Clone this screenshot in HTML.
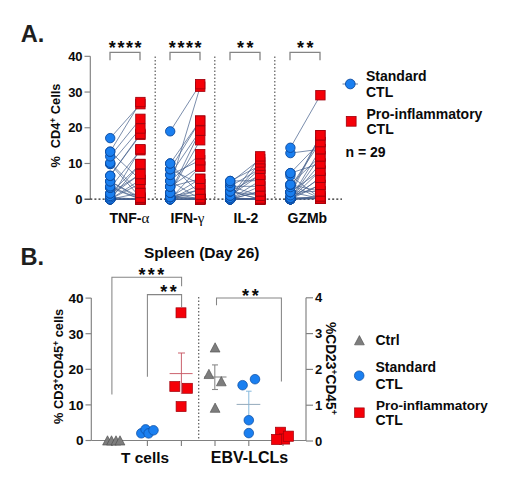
<!DOCTYPE html>
<html><head><meta charset="utf-8"><style>
html,body{margin:0;padding:0;background:#fff;width:520px;height:488px;overflow:hidden;}
svg{display:block;}
text{font-family:"Liberation Sans",sans-serif;}
</style></head><body>
<svg width="520" height="488" viewBox="0 0 520 488">
<rect width="520" height="488" fill="#fff"/>
<text x="20.8" y="42.1" font-size="23.6" font-family="Liberation Sans" font-weight="bold" fill="#1e1e1e">A.</text>
<g stroke="#808080" stroke-width="1.15" fill="none">
<line x1="90.3" y1="56.31999999999999" x2="90.3" y2="199.2"/>
<line x1="84.5" y1="163.48" x2="90.3" y2="163.48"/>
<line x1="84.5" y1="127.76" x2="90.3" y2="127.76"/>
<line x1="84.5" y1="92.04" x2="90.3" y2="92.04"/>
<line x1="84.5" y1="56.32" x2="90.3" y2="56.32"/>
</g>
<line x1="84.5" y1="199.2" x2="90.3" y2="199.2" stroke="#333" stroke-width="1.2"/>
<g font-size="13" font-family="Liberation Sans" font-weight="bold" text-anchor="end" fill="#0a0a0a">
<text x="82.6" y="203.80">0</text>
<text x="82.6" y="168.08">10</text>
<text x="82.6" y="132.36">20</text>
<text x="82.6" y="96.64">30</text>
<text x="82.6" y="60.92">40</text>
</g>
<text transform="translate(60.2,167.4) rotate(-90)" font-size="12.8" font-family="Liberation Sans" font-weight="bold" fill="#0a0a0a">%<tspan dx="4.2"> CD4</tspan><tspan font-size="8.5" dy="-4.6">+</tspan><tspan dy="4.6"> Cells</tspan></text>
<line x1="155.2" y1="56.5" x2="155.2" y2="199" stroke="#5a5a5a" stroke-width="1.2" stroke-dasharray="1.5 2"/>
<line x1="214.8" y1="56.5" x2="214.8" y2="199" stroke="#5a5a5a" stroke-width="1.2" stroke-dasharray="1.5 2"/>
<line x1="274.8" y1="56.5" x2="274.8" y2="199" stroke="#5a5a5a" stroke-width="1.2" stroke-dasharray="1.5 2"/>
<line x1="90.3" y1="199.2" x2="342" y2="199.2" stroke="#222" stroke-width="1.2" stroke-dasharray="2 2.1"/>
<g stroke="#45608c" stroke-width="0.85" stroke-opacity="0.85">
<line x1="110.2" y1="138.12" x2="140.4" y2="104.18"/>
<line x1="110.2" y1="151.69" x2="140.4" y2="102.04"/>
<line x1="110.2" y1="151.69" x2="140.4" y2="179.91"/>
<line x1="110.2" y1="156.34" x2="140.4" y2="118.83"/>
<line x1="110.2" y1="162.77" x2="140.4" y2="192.95"/>
<line x1="110.2" y1="164.02" x2="140.4" y2="197.59"/>
<line x1="110.2" y1="164.02" x2="140.4" y2="128.47"/>
<line x1="110.2" y1="175.80" x2="140.4" y2="134.90"/>
<line x1="110.2" y1="175.80" x2="140.4" y2="133.83"/>
<line x1="110.2" y1="181.34" x2="140.4" y2="197.59"/>
<line x1="110.2" y1="181.34" x2="140.4" y2="199.20"/>
<line x1="110.2" y1="186.34" x2="140.4" y2="199.20"/>
<line x1="110.2" y1="187.77" x2="140.4" y2="150.26"/>
<line x1="110.2" y1="187.77" x2="140.4" y2="199.20"/>
<line x1="110.2" y1="193.48" x2="140.4" y2="164.02"/>
<line x1="110.2" y1="193.48" x2="140.4" y2="174.02"/>
<line x1="110.2" y1="195.99" x2="140.4" y2="174.02"/>
<line x1="110.2" y1="197.41" x2="140.4" y2="199.20"/>
<line x1="110.2" y1="199.20" x2="140.4" y2="149.19"/>
<line x1="110.2" y1="199.20" x2="140.4" y2="183.48"/>
<line x1="110.2" y1="199.20" x2="140.4" y2="199.20"/>
<line x1="110.2" y1="199.20" x2="140.4" y2="199.20"/>
<line x1="110.2" y1="199.20" x2="140.4" y2="164.02"/>
<line x1="110.2" y1="199.20" x2="140.4" y2="192.95"/>
<line x1="110.2" y1="199.20" x2="140.4" y2="199.20"/>
<line x1="110.2" y1="199.20" x2="140.4" y2="179.91"/>
<line x1="110.2" y1="199.20" x2="140.4" y2="199.20"/>
<line x1="110.2" y1="199.20" x2="140.4" y2="199.20"/>
<line x1="110.2" y1="199.20" x2="140.4" y2="199.20"/>
</g>
<g fill="#1a7ff0" stroke="#0b4a9e" stroke-width="0.9">
<circle cx="110.2" cy="199.20" r="4.7"/>
<circle cx="110.2" cy="199.20" r="4.7"/>
<circle cx="110.2" cy="199.20" r="4.7"/>
<circle cx="110.2" cy="199.20" r="4.7"/>
<circle cx="110.2" cy="199.20" r="4.7"/>
<circle cx="110.2" cy="199.20" r="4.7"/>
<circle cx="110.2" cy="199.20" r="4.7"/>
<circle cx="110.2" cy="199.20" r="4.7"/>
<circle cx="110.2" cy="199.20" r="4.7"/>
<circle cx="110.2" cy="199.20" r="4.7"/>
<circle cx="110.2" cy="199.20" r="4.7"/>
<circle cx="110.2" cy="197.41" r="4.7"/>
<circle cx="110.2" cy="195.99" r="4.7"/>
<circle cx="110.2" cy="193.48" r="4.7"/>
<circle cx="110.2" cy="193.48" r="4.7"/>
<circle cx="110.2" cy="187.77" r="4.7"/>
<circle cx="110.2" cy="187.77" r="4.7"/>
<circle cx="110.2" cy="186.34" r="4.7"/>
<circle cx="110.2" cy="181.34" r="4.7"/>
<circle cx="110.2" cy="181.34" r="4.7"/>
<circle cx="110.2" cy="175.80" r="4.7"/>
<circle cx="110.2" cy="175.80" r="4.7"/>
<circle cx="110.2" cy="164.02" r="4.7"/>
<circle cx="110.2" cy="164.02" r="4.7"/>
<circle cx="110.2" cy="162.77" r="4.7"/>
<circle cx="110.2" cy="156.34" r="4.7"/>
<circle cx="110.2" cy="151.69" r="4.7"/>
<circle cx="110.2" cy="151.69" r="4.7"/>
<circle cx="110.2" cy="138.12" r="4.7"/>
</g>
<g fill="#f50008" stroke="#a0000c" stroke-width="0.85">
<rect x="135.70000000000002" y="194.50" width="9.4" height="9.4"/>
<rect x="135.70000000000002" y="194.50" width="9.4" height="9.4"/>
<rect x="135.70000000000002" y="194.50" width="9.4" height="9.4"/>
<rect x="135.70000000000002" y="194.50" width="9.4" height="9.4"/>
<rect x="135.70000000000002" y="194.50" width="9.4" height="9.4"/>
<rect x="135.70000000000002" y="194.50" width="9.4" height="9.4"/>
<rect x="135.70000000000002" y="194.50" width="9.4" height="9.4"/>
<rect x="135.70000000000002" y="194.50" width="9.4" height="9.4"/>
<rect x="135.70000000000002" y="194.50" width="9.4" height="9.4"/>
<rect x="135.70000000000002" y="194.50" width="9.4" height="9.4"/>
<rect x="135.70000000000002" y="192.89" width="9.4" height="9.4"/>
<rect x="135.70000000000002" y="192.89" width="9.4" height="9.4"/>
<rect x="135.70000000000002" y="188.25" width="9.4" height="9.4"/>
<rect x="135.70000000000002" y="188.25" width="9.4" height="9.4"/>
<rect x="135.70000000000002" y="178.78" width="9.4" height="9.4"/>
<rect x="135.70000000000002" y="175.21" width="9.4" height="9.4"/>
<rect x="135.70000000000002" y="175.21" width="9.4" height="9.4"/>
<rect x="135.70000000000002" y="169.32" width="9.4" height="9.4"/>
<rect x="135.70000000000002" y="169.32" width="9.4" height="9.4"/>
<rect x="135.70000000000002" y="159.32" width="9.4" height="9.4"/>
<rect x="135.70000000000002" y="159.32" width="9.4" height="9.4"/>
<rect x="135.70000000000002" y="145.56" width="9.4" height="9.4"/>
<rect x="135.70000000000002" y="144.49" width="9.4" height="9.4"/>
<rect x="135.70000000000002" y="130.20" width="9.4" height="9.4"/>
<rect x="135.70000000000002" y="129.13" width="9.4" height="9.4"/>
<rect x="135.70000000000002" y="123.77" width="9.4" height="9.4"/>
<rect x="135.70000000000002" y="114.13" width="9.4" height="9.4"/>
<rect x="135.70000000000002" y="99.48" width="9.4" height="9.4"/>
<rect x="135.70000000000002" y="97.34" width="9.4" height="9.4"/>
</g>
<g stroke="#45608c" stroke-width="0.85" stroke-opacity="0.85">
<line x1="170.2" y1="131.33" x2="200.2" y2="84.18"/>
<line x1="170.2" y1="163.48" x2="200.2" y2="120.62"/>
<line x1="170.2" y1="163.48" x2="200.2" y2="194.56"/>
<line x1="170.2" y1="169.20" x2="200.2" y2="120.62"/>
<line x1="170.2" y1="169.20" x2="200.2" y2="184.20"/>
<line x1="170.2" y1="174.91" x2="200.2" y2="160.27"/>
<line x1="170.2" y1="174.91" x2="200.2" y2="130.62"/>
<line x1="170.2" y1="180.98" x2="200.2" y2="199.20"/>
<line x1="170.2" y1="180.98" x2="200.2" y2="154.19"/>
<line x1="170.2" y1="186.70" x2="200.2" y2="178.84"/>
<line x1="170.2" y1="186.70" x2="200.2" y2="166.52"/>
<line x1="170.2" y1="186.70" x2="200.2" y2="86.68"/>
<line x1="170.2" y1="192.77" x2="200.2" y2="140.26"/>
<line x1="170.2" y1="192.77" x2="200.2" y2="199.20"/>
<line x1="170.2" y1="192.77" x2="200.2" y2="130.62"/>
<line x1="170.2" y1="197.06" x2="200.2" y2="194.56"/>
<line x1="170.2" y1="197.06" x2="200.2" y2="178.84"/>
<line x1="170.2" y1="197.06" x2="200.2" y2="189.56"/>
<line x1="170.2" y1="197.06" x2="200.2" y2="198.13"/>
<line x1="170.2" y1="197.06" x2="200.2" y2="199.20"/>
<line x1="170.2" y1="199.20" x2="200.2" y2="184.20"/>
<line x1="170.2" y1="199.20" x2="200.2" y2="199.20"/>
<line x1="170.2" y1="199.20" x2="200.2" y2="199.20"/>
<line x1="170.2" y1="199.20" x2="200.2" y2="166.52"/>
<line x1="170.2" y1="199.20" x2="200.2" y2="199.20"/>
<line x1="170.2" y1="199.20" x2="200.2" y2="199.20"/>
<line x1="170.2" y1="199.20" x2="200.2" y2="199.20"/>
<line x1="170.2" y1="199.20" x2="200.2" y2="189.56"/>
<line x1="170.2" y1="199.20" x2="200.2" y2="199.20"/>
</g>
<g fill="#1a7ff0" stroke="#0b4a9e" stroke-width="0.9">
<circle cx="170.2" cy="199.20" r="4.7"/>
<circle cx="170.2" cy="199.20" r="4.7"/>
<circle cx="170.2" cy="199.20" r="4.7"/>
<circle cx="170.2" cy="199.20" r="4.7"/>
<circle cx="170.2" cy="199.20" r="4.7"/>
<circle cx="170.2" cy="199.20" r="4.7"/>
<circle cx="170.2" cy="199.20" r="4.7"/>
<circle cx="170.2" cy="199.20" r="4.7"/>
<circle cx="170.2" cy="199.20" r="4.7"/>
<circle cx="170.2" cy="197.06" r="4.7"/>
<circle cx="170.2" cy="197.06" r="4.7"/>
<circle cx="170.2" cy="197.06" r="4.7"/>
<circle cx="170.2" cy="197.06" r="4.7"/>
<circle cx="170.2" cy="197.06" r="4.7"/>
<circle cx="170.2" cy="192.77" r="4.7"/>
<circle cx="170.2" cy="192.77" r="4.7"/>
<circle cx="170.2" cy="192.77" r="4.7"/>
<circle cx="170.2" cy="186.70" r="4.7"/>
<circle cx="170.2" cy="186.70" r="4.7"/>
<circle cx="170.2" cy="186.70" r="4.7"/>
<circle cx="170.2" cy="180.98" r="4.7"/>
<circle cx="170.2" cy="180.98" r="4.7"/>
<circle cx="170.2" cy="174.91" r="4.7"/>
<circle cx="170.2" cy="174.91" r="4.7"/>
<circle cx="170.2" cy="169.20" r="4.7"/>
<circle cx="170.2" cy="169.20" r="4.7"/>
<circle cx="170.2" cy="163.48" r="4.7"/>
<circle cx="170.2" cy="163.48" r="4.7"/>
<circle cx="170.2" cy="131.33" r="4.7"/>
</g>
<g fill="#f50008" stroke="#a0000c" stroke-width="0.85">
<rect x="195.5" y="194.50" width="9.4" height="9.4"/>
<rect x="195.5" y="194.50" width="9.4" height="9.4"/>
<rect x="195.5" y="194.50" width="9.4" height="9.4"/>
<rect x="195.5" y="194.50" width="9.4" height="9.4"/>
<rect x="195.5" y="194.50" width="9.4" height="9.4"/>
<rect x="195.5" y="194.50" width="9.4" height="9.4"/>
<rect x="195.5" y="194.50" width="9.4" height="9.4"/>
<rect x="195.5" y="194.50" width="9.4" height="9.4"/>
<rect x="195.5" y="194.50" width="9.4" height="9.4"/>
<rect x="195.5" y="193.43" width="9.4" height="9.4"/>
<rect x="195.5" y="189.86" width="9.4" height="9.4"/>
<rect x="195.5" y="189.86" width="9.4" height="9.4"/>
<rect x="195.5" y="184.86" width="9.4" height="9.4"/>
<rect x="195.5" y="184.86" width="9.4" height="9.4"/>
<rect x="195.5" y="179.50" width="9.4" height="9.4"/>
<rect x="195.5" y="179.50" width="9.4" height="9.4"/>
<rect x="195.5" y="174.14" width="9.4" height="9.4"/>
<rect x="195.5" y="174.14" width="9.4" height="9.4"/>
<rect x="195.5" y="161.82" width="9.4" height="9.4"/>
<rect x="195.5" y="161.82" width="9.4" height="9.4"/>
<rect x="195.5" y="155.57" width="9.4" height="9.4"/>
<rect x="195.5" y="149.49" width="9.4" height="9.4"/>
<rect x="195.5" y="135.56" width="9.4" height="9.4"/>
<rect x="195.5" y="125.92" width="9.4" height="9.4"/>
<rect x="195.5" y="125.92" width="9.4" height="9.4"/>
<rect x="195.5" y="115.92" width="9.4" height="9.4"/>
<rect x="195.5" y="115.92" width="9.4" height="9.4"/>
<rect x="195.5" y="81.98" width="9.4" height="9.4"/>
<rect x="195.5" y="79.48" width="9.4" height="9.4"/>
</g>
<g stroke="#45608c" stroke-width="0.85" stroke-opacity="0.85">
<line x1="230.2" y1="180.98" x2="260.2" y2="165.62"/>
<line x1="230.2" y1="180.98" x2="260.2" y2="180.63"/>
<line x1="230.2" y1="182.77" x2="260.2" y2="159.19"/>
<line x1="230.2" y1="186.34" x2="260.2" y2="195.63"/>
<line x1="230.2" y1="186.34" x2="260.2" y2="168.84"/>
<line x1="230.2" y1="186.34" x2="260.2" y2="186.34"/>
<line x1="230.2" y1="191.34" x2="260.2" y2="199.20"/>
<line x1="230.2" y1="191.34" x2="260.2" y2="174.91"/>
<line x1="230.2" y1="191.34" x2="260.2" y2="195.63"/>
<line x1="230.2" y1="191.34" x2="260.2" y2="199.20"/>
<line x1="230.2" y1="195.63" x2="260.2" y2="168.84"/>
<line x1="230.2" y1="195.63" x2="260.2" y2="174.91"/>
<line x1="230.2" y1="197.77" x2="260.2" y2="156.34"/>
<line x1="230.2" y1="197.77" x2="260.2" y2="199.20"/>
<line x1="230.2" y1="199.20" x2="260.2" y2="162.41"/>
<line x1="230.2" y1="199.20" x2="260.2" y2="186.34"/>
<line x1="230.2" y1="199.20" x2="260.2" y2="199.20"/>
<line x1="230.2" y1="199.20" x2="260.2" y2="199.20"/>
<line x1="230.2" y1="199.20" x2="260.2" y2="198.49"/>
<line x1="230.2" y1="199.20" x2="260.2" y2="191.34"/>
<line x1="230.2" y1="199.20" x2="260.2" y2="199.20"/>
<line x1="230.2" y1="199.20" x2="260.2" y2="199.20"/>
<line x1="230.2" y1="199.20" x2="260.2" y2="199.20"/>
<line x1="230.2" y1="199.20" x2="260.2" y2="199.20"/>
<line x1="230.2" y1="199.20" x2="260.2" y2="180.63"/>
<line x1="230.2" y1="199.20" x2="260.2" y2="199.20"/>
<line x1="230.2" y1="199.20" x2="260.2" y2="199.20"/>
<line x1="230.2" y1="199.20" x2="260.2" y2="191.34"/>
<line x1="230.2" y1="199.20" x2="260.2" y2="199.20"/>
</g>
<g fill="#1a7ff0" stroke="#0b4a9e" stroke-width="0.9">
<circle cx="230.2" cy="199.20" r="4.7"/>
<circle cx="230.2" cy="199.20" r="4.7"/>
<circle cx="230.2" cy="199.20" r="4.7"/>
<circle cx="230.2" cy="199.20" r="4.7"/>
<circle cx="230.2" cy="199.20" r="4.7"/>
<circle cx="230.2" cy="199.20" r="4.7"/>
<circle cx="230.2" cy="199.20" r="4.7"/>
<circle cx="230.2" cy="199.20" r="4.7"/>
<circle cx="230.2" cy="199.20" r="4.7"/>
<circle cx="230.2" cy="199.20" r="4.7"/>
<circle cx="230.2" cy="199.20" r="4.7"/>
<circle cx="230.2" cy="199.20" r="4.7"/>
<circle cx="230.2" cy="199.20" r="4.7"/>
<circle cx="230.2" cy="199.20" r="4.7"/>
<circle cx="230.2" cy="199.20" r="4.7"/>
<circle cx="230.2" cy="197.77" r="4.7"/>
<circle cx="230.2" cy="197.77" r="4.7"/>
<circle cx="230.2" cy="195.63" r="4.7"/>
<circle cx="230.2" cy="195.63" r="4.7"/>
<circle cx="230.2" cy="191.34" r="4.7"/>
<circle cx="230.2" cy="191.34" r="4.7"/>
<circle cx="230.2" cy="191.34" r="4.7"/>
<circle cx="230.2" cy="191.34" r="4.7"/>
<circle cx="230.2" cy="186.34" r="4.7"/>
<circle cx="230.2" cy="186.34" r="4.7"/>
<circle cx="230.2" cy="186.34" r="4.7"/>
<circle cx="230.2" cy="182.77" r="4.7"/>
<circle cx="230.2" cy="180.98" r="4.7"/>
<circle cx="230.2" cy="180.98" r="4.7"/>
</g>
<g fill="#f50008" stroke="#a0000c" stroke-width="0.85">
<rect x="255.5" y="194.50" width="9.4" height="9.4"/>
<rect x="255.5" y="194.50" width="9.4" height="9.4"/>
<rect x="255.5" y="194.50" width="9.4" height="9.4"/>
<rect x="255.5" y="194.50" width="9.4" height="9.4"/>
<rect x="255.5" y="194.50" width="9.4" height="9.4"/>
<rect x="255.5" y="194.50" width="9.4" height="9.4"/>
<rect x="255.5" y="194.50" width="9.4" height="9.4"/>
<rect x="255.5" y="194.50" width="9.4" height="9.4"/>
<rect x="255.5" y="194.50" width="9.4" height="9.4"/>
<rect x="255.5" y="194.50" width="9.4" height="9.4"/>
<rect x="255.5" y="194.50" width="9.4" height="9.4"/>
<rect x="255.5" y="194.50" width="9.4" height="9.4"/>
<rect x="255.5" y="193.79" width="9.4" height="9.4"/>
<rect x="255.5" y="190.93" width="9.4" height="9.4"/>
<rect x="255.5" y="190.93" width="9.4" height="9.4"/>
<rect x="255.5" y="186.64" width="9.4" height="9.4"/>
<rect x="255.5" y="186.64" width="9.4" height="9.4"/>
<rect x="255.5" y="181.64" width="9.4" height="9.4"/>
<rect x="255.5" y="181.64" width="9.4" height="9.4"/>
<rect x="255.5" y="175.93" width="9.4" height="9.4"/>
<rect x="255.5" y="175.93" width="9.4" height="9.4"/>
<rect x="255.5" y="170.21" width="9.4" height="9.4"/>
<rect x="255.5" y="170.21" width="9.4" height="9.4"/>
<rect x="255.5" y="164.14" width="9.4" height="9.4"/>
<rect x="255.5" y="164.14" width="9.4" height="9.4"/>
<rect x="255.5" y="160.92" width="9.4" height="9.4"/>
<rect x="255.5" y="157.71" width="9.4" height="9.4"/>
<rect x="255.5" y="154.49" width="9.4" height="9.4"/>
<rect x="255.5" y="151.64" width="9.4" height="9.4"/>
</g>
<g stroke="#45608c" stroke-width="0.85" stroke-opacity="0.85">
<line x1="290.4" y1="147.76" x2="320.4" y2="95.25"/>
<line x1="290.4" y1="153.12" x2="320.4" y2="149.19"/>
<line x1="290.4" y1="173.12" x2="320.4" y2="163.48"/>
<line x1="290.4" y1="173.12" x2="320.4" y2="142.05"/>
<line x1="290.4" y1="175.62" x2="320.4" y2="198.49"/>
<line x1="290.4" y1="184.55" x2="320.4" y2="156.34"/>
<line x1="290.4" y1="184.55" x2="320.4" y2="198.49"/>
<line x1="290.4" y1="184.55" x2="320.4" y2="191.34"/>
<line x1="290.4" y1="187.06" x2="320.4" y2="142.05"/>
<line x1="290.4" y1="192.06" x2="320.4" y2="135.26"/>
<line x1="290.4" y1="192.06" x2="320.4" y2="170.62"/>
<line x1="290.4" y1="192.06" x2="320.4" y2="191.34"/>
<line x1="290.4" y1="192.06" x2="320.4" y2="198.49"/>
<line x1="290.4" y1="195.27" x2="320.4" y2="135.26"/>
<line x1="290.4" y1="197.77" x2="320.4" y2="198.49"/>
<line x1="290.4" y1="197.77" x2="320.4" y2="184.91"/>
<line x1="290.4" y1="197.77" x2="320.4" y2="198.49"/>
<line x1="290.4" y1="199.20" x2="320.4" y2="149.19"/>
<line x1="290.4" y1="199.20" x2="320.4" y2="198.49"/>
<line x1="290.4" y1="199.20" x2="320.4" y2="177.77"/>
<line x1="290.4" y1="199.20" x2="320.4" y2="196.34"/>
<line x1="290.4" y1="199.20" x2="320.4" y2="170.62"/>
<line x1="290.4" y1="199.20" x2="320.4" y2="156.34"/>
<line x1="290.4" y1="199.20" x2="320.4" y2="177.77"/>
<line x1="290.4" y1="199.20" x2="320.4" y2="184.91"/>
<line x1="290.4" y1="199.20" x2="320.4" y2="163.48"/>
<line x1="290.4" y1="199.20" x2="320.4" y2="198.49"/>
<line x1="290.4" y1="199.20" x2="320.4" y2="196.34"/>
<line x1="290.4" y1="199.20" x2="320.4" y2="198.49"/>
</g>
<g fill="#1a7ff0" stroke="#0b4a9e" stroke-width="0.9">
<circle cx="290.4" cy="199.20" r="4.7"/>
<circle cx="290.4" cy="199.20" r="4.7"/>
<circle cx="290.4" cy="199.20" r="4.7"/>
<circle cx="290.4" cy="199.20" r="4.7"/>
<circle cx="290.4" cy="199.20" r="4.7"/>
<circle cx="290.4" cy="199.20" r="4.7"/>
<circle cx="290.4" cy="199.20" r="4.7"/>
<circle cx="290.4" cy="199.20" r="4.7"/>
<circle cx="290.4" cy="199.20" r="4.7"/>
<circle cx="290.4" cy="199.20" r="4.7"/>
<circle cx="290.4" cy="199.20" r="4.7"/>
<circle cx="290.4" cy="199.20" r="4.7"/>
<circle cx="290.4" cy="197.77" r="4.7"/>
<circle cx="290.4" cy="197.77" r="4.7"/>
<circle cx="290.4" cy="197.77" r="4.7"/>
<circle cx="290.4" cy="195.27" r="4.7"/>
<circle cx="290.4" cy="192.06" r="4.7"/>
<circle cx="290.4" cy="192.06" r="4.7"/>
<circle cx="290.4" cy="192.06" r="4.7"/>
<circle cx="290.4" cy="192.06" r="4.7"/>
<circle cx="290.4" cy="187.06" r="4.7"/>
<circle cx="290.4" cy="184.55" r="4.7"/>
<circle cx="290.4" cy="184.55" r="4.7"/>
<circle cx="290.4" cy="184.55" r="4.7"/>
<circle cx="290.4" cy="175.62" r="4.7"/>
<circle cx="290.4" cy="173.12" r="4.7"/>
<circle cx="290.4" cy="173.12" r="4.7"/>
<circle cx="290.4" cy="153.12" r="4.7"/>
<circle cx="290.4" cy="147.76" r="4.7"/>
</g>
<g fill="#f50008" stroke="#a0000c" stroke-width="0.85">
<rect x="315.7" y="193.79" width="9.4" height="9.4"/>
<rect x="315.7" y="193.79" width="9.4" height="9.4"/>
<rect x="315.7" y="193.79" width="9.4" height="9.4"/>
<rect x="315.7" y="193.79" width="9.4" height="9.4"/>
<rect x="315.7" y="193.79" width="9.4" height="9.4"/>
<rect x="315.7" y="193.79" width="9.4" height="9.4"/>
<rect x="315.7" y="193.79" width="9.4" height="9.4"/>
<rect x="315.7" y="193.79" width="9.4" height="9.4"/>
<rect x="315.7" y="191.64" width="9.4" height="9.4"/>
<rect x="315.7" y="191.64" width="9.4" height="9.4"/>
<rect x="315.7" y="186.64" width="9.4" height="9.4"/>
<rect x="315.7" y="186.64" width="9.4" height="9.4"/>
<rect x="315.7" y="180.21" width="9.4" height="9.4"/>
<rect x="315.7" y="180.21" width="9.4" height="9.4"/>
<rect x="315.7" y="173.07" width="9.4" height="9.4"/>
<rect x="315.7" y="173.07" width="9.4" height="9.4"/>
<rect x="315.7" y="165.92" width="9.4" height="9.4"/>
<rect x="315.7" y="165.92" width="9.4" height="9.4"/>
<rect x="315.7" y="158.78" width="9.4" height="9.4"/>
<rect x="315.7" y="158.78" width="9.4" height="9.4"/>
<rect x="315.7" y="151.64" width="9.4" height="9.4"/>
<rect x="315.7" y="151.64" width="9.4" height="9.4"/>
<rect x="315.7" y="144.49" width="9.4" height="9.4"/>
<rect x="315.7" y="144.49" width="9.4" height="9.4"/>
<rect x="315.7" y="137.35" width="9.4" height="9.4"/>
<rect x="315.7" y="137.35" width="9.4" height="9.4"/>
<rect x="315.7" y="130.56" width="9.4" height="9.4"/>
<rect x="315.7" y="130.56" width="9.4" height="9.4"/>
<rect x="315.7" y="90.55" width="9.4" height="9.4"/>
</g>
<path d="M110 60.3 V52.3 H140 V60.3" fill="none" stroke="#858585" stroke-width="1.3"/>
<text x="112.30" y="54.2" font-size="18" font-family="Liberation Sans" font-weight="bold" text-anchor="middle" fill="#0a0a0a">*</text>
<text x="120.90" y="54.2" font-size="18" font-family="Liberation Sans" font-weight="bold" text-anchor="middle" fill="#0a0a0a">*</text>
<text x="129.50" y="54.2" font-size="18" font-family="Liberation Sans" font-weight="bold" text-anchor="middle" fill="#0a0a0a">*</text>
<text x="138.10" y="54.2" font-size="18" font-family="Liberation Sans" font-weight="bold" text-anchor="middle" fill="#0a0a0a">*</text>
<path d="M170 60.3 V52.3 H200 V60.3" fill="none" stroke="#858585" stroke-width="1.3"/>
<text x="172.30" y="54.2" font-size="18" font-family="Liberation Sans" font-weight="bold" text-anchor="middle" fill="#0a0a0a">*</text>
<text x="180.90" y="54.2" font-size="18" font-family="Liberation Sans" font-weight="bold" text-anchor="middle" fill="#0a0a0a">*</text>
<text x="189.50" y="54.2" font-size="18" font-family="Liberation Sans" font-weight="bold" text-anchor="middle" fill="#0a0a0a">*</text>
<text x="198.10" y="54.2" font-size="18" font-family="Liberation Sans" font-weight="bold" text-anchor="middle" fill="#0a0a0a">*</text>
<path d="M230 60.3 V52.3 H260 V60.3" fill="none" stroke="#858585" stroke-width="1.3"/>
<text x="240.50" y="54.2" font-size="18" font-family="Liberation Sans" font-weight="bold" text-anchor="middle" fill="#0a0a0a">*</text>
<text x="249.90" y="54.2" font-size="18" font-family="Liberation Sans" font-weight="bold" text-anchor="middle" fill="#0a0a0a">*</text>
<path d="M290 60.3 V52.3 H320 V60.3" fill="none" stroke="#858585" stroke-width="1.3"/>
<text x="300.50" y="54.2" font-size="18" font-family="Liberation Sans" font-weight="bold" text-anchor="middle" fill="#0a0a0a">*</text>
<text x="309.90" y="54.2" font-size="18" font-family="Liberation Sans" font-weight="bold" text-anchor="middle" fill="#0a0a0a">*</text>
<g font-size="14" font-family="Liberation Sans" font-weight="bold" fill="#0a0a0a">
<text x="109.5" y="223">TNF-<tspan font-family="Liberation Serif" font-weight="normal" font-size="15">α</tspan></text>
<text x="170.5" y="223">IFN-<tspan font-family="Liberation Serif" font-weight="normal" font-size="15">γ</tspan></text>
<text x="233.5" y="223">IL-2</text>
<text x="287.5" y="223">GZMb</text>
</g>
<line x1="342.5" y1="84" x2="358" y2="84" stroke="#45608c" stroke-width="0.8"/>
<circle cx="350.3" cy="84" r="4.85" fill="#1a7ff0" stroke="#0b4a9e" stroke-width="0.9"/>
<rect x="346.3" y="116.4" width="9.8" height="9.8" fill="#f50008" stroke="#a0000c" stroke-width="0.8"/>
<g font-size="14" font-family="Liberation Sans" font-weight="bold" fill="#0a0a0a">
<text x="366" y="80.5">Standard</text><text x="366" y="96.5">CTL</text>
<text x="366.5" y="119">Pro-inflammatory</text><text x="366.5" y="134">CTL</text>
<text x="345.5" y="156.5">n = 29</text>
</g>
<text x="20.4" y="265" font-size="23.6" font-family="Liberation Sans" font-weight="bold" fill="#1e1e1e">B.</text>
<text x="144" y="257.6" font-size="15.5" font-family="Liberation Sans" font-weight="bold" fill="#0a0a0a">Spleen (Day 26)</text>
<g stroke="#808080" stroke-width="1.15" fill="none">
<line x1="91.3" y1="298.1" x2="91.3" y2="440.5"/>
<line x1="85.5" y1="440.50" x2="91.3" y2="440.50"/>
<line x1="85.5" y1="404.90" x2="91.3" y2="404.90"/>
<line x1="85.5" y1="369.30" x2="91.3" y2="369.30"/>
<line x1="85.5" y1="333.70" x2="91.3" y2="333.70"/>
<line x1="85.5" y1="298.10" x2="91.3" y2="298.10"/>
<line x1="306" y1="297.8" x2="306" y2="441.0"/>
<line x1="306" y1="441.00" x2="313" y2="441.00"/>
<line x1="306" y1="405.20" x2="313" y2="405.20"/>
<line x1="306" y1="369.40" x2="313" y2="369.40"/>
<line x1="306" y1="333.60" x2="313" y2="333.60"/>
<line x1="306" y1="297.80" x2="313" y2="297.80"/>
<line x1="91.3" y1="440.5" x2="306" y2="440.5"/>
<line x1="112" y1="440.5" x2="112" y2="446"/>
<line x1="147.4" y1="440.5" x2="147.4" y2="446"/>
<line x1="181.4" y1="440.5" x2="181.4" y2="446"/>
<line x1="215" y1="440.5" x2="215" y2="446"/>
<line x1="248.8" y1="440.5" x2="248.8" y2="446"/>
<line x1="283" y1="440.5" x2="283" y2="446"/>
</g>
<g font-size="13.6" font-family="Liberation Sans" font-weight="bold" text-anchor="end" fill="#0a0a0a">
<text x="83.5" y="445.30">0</text>
<text x="83.5" y="409.70">10</text>
<text x="83.5" y="374.10">20</text>
<text x="83.5" y="338.50">30</text>
<text x="83.5" y="302.90">40</text>
</g>
<g font-size="13" font-family="Liberation Sans" font-weight="bold" fill="#0a0a0a">
<text x="315" y="445.60">0</text>
<text x="315" y="409.80">1</text>
<text x="315" y="374.00">2</text>
<text x="315" y="338.20">3</text>
<text x="315" y="302.40">4</text>
</g>
<text transform="translate(63.2,366.4) rotate(-90)" font-size="12.8" font-family="Liberation Sans" font-weight="bold" text-anchor="middle" fill="#0a0a0a">% CD3<tspan font-size="8.5" dy="-4.5">+</tspan><tspan dy="4.5">CD45</tspan><tspan font-size="8.5" dy="-4.5">+</tspan><tspan dy="4.5"> cells</tspan></text>
<text transform="translate(326.2,368.3) rotate(90)" font-size="13.8" font-family="Liberation Sans" font-weight="bold" text-anchor="middle" fill="#0a0a0a">%CD23<tspan font-size="8.5" dy="-4.5">+</tspan><tspan dy="4.5">CD45</tspan><tspan font-size="8.5" dy="-4.5">+</tspan></text>
<line x1="198.7" y1="297" x2="198.7" y2="440" stroke="#5a5a5a" stroke-width="1.2" stroke-dasharray="1.5 2"/>
<path d="M111.9 394.6 V277.3 H181.6 V286.2" fill="none" stroke="#858585" stroke-width="1.05"/>
<path d="M147.4 376.8 V294.6 H181.6 V307" fill="none" stroke="#858585" stroke-width="1.05"/>
<path d="M216.5 305.2 V298 H281.4 V381.4" fill="none" stroke="#858585" stroke-width="1.05"/>
<text x="141.90" y="281.0" font-size="18" font-family="Liberation Sans" font-weight="bold" text-anchor="middle" fill="#0a0a0a">*</text>
<text x="151.30" y="281.0" font-size="18" font-family="Liberation Sans" font-weight="bold" text-anchor="middle" fill="#0a0a0a">*</text>
<text x="160.80" y="281.0" font-size="18" font-family="Liberation Sans" font-weight="bold" text-anchor="middle" fill="#0a0a0a">*</text>
<text x="163.70" y="298.3" font-size="18" font-family="Liberation Sans" font-weight="bold" text-anchor="middle" fill="#0a0a0a">*</text>
<text x="173.30" y="298.3" font-size="18" font-family="Liberation Sans" font-weight="bold" text-anchor="middle" fill="#0a0a0a">*</text>
<text x="245.60" y="301.6" font-size="18" font-family="Liberation Sans" font-weight="bold" text-anchor="middle" fill="#0a0a0a">*</text>
<text x="255.20" y="301.6" font-size="18" font-family="Liberation Sans" font-weight="bold" text-anchor="middle" fill="#0a0a0a">*</text>
<path d="M107.5 435.75 L112.40 445.05 L102.60 445.05 Z" fill="#7d7d7d" stroke="#4a4a4a" stroke-width="0.6"/>
<path d="M111.5 435.75 L116.40 445.05 L106.60 445.05 Z" fill="#7d7d7d" stroke="#4a4a4a" stroke-width="0.6"/>
<path d="M116 435.75 L120.90 445.05 L111.10 445.05 Z" fill="#7d7d7d" stroke="#4a4a4a" stroke-width="0.6"/>
<path d="M120 435.75 L124.90 445.05 L115.10 445.05 Z" fill="#7d7d7d" stroke="#4a4a4a" stroke-width="0.6"/>
<circle cx="141.3" cy="433.3" r="4.8" fill="#1a7ff0" stroke="#0b4a9e" stroke-width="0.7"/>
<circle cx="145.6" cy="429.4" r="4.8" fill="#1a7ff0" stroke="#0b4a9e" stroke-width="0.7"/>
<circle cx="148.6" cy="433.4" r="4.8" fill="#1a7ff0" stroke="#0b4a9e" stroke-width="0.7"/>
<circle cx="153.5" cy="430.3" r="4.8" fill="#1a7ff0" stroke="#0b4a9e" stroke-width="0.7"/>
<g stroke="#c85a66" stroke-width="0.95" fill="none"><line x1="181.4" y1="353" x2="181.4" y2="394"/><line x1="178" y1="353" x2="185" y2="353"/><line x1="169.6" y1="373.6" x2="192.6" y2="373.6"/></g>
<rect x="176" y="307.8" width="10" height="10" fill="#f50008" stroke="#a0000c" stroke-width="0.7"/>
<rect x="169.8" y="381.5" width="10" height="10" fill="#f50008" stroke="#a0000c" stroke-width="0.7"/>
<rect x="182.4" y="383.3" width="10" height="10" fill="#f50008" stroke="#a0000c" stroke-width="0.7"/>
<rect x="176.1" y="401.6" width="10" height="10" fill="#f50008" stroke="#a0000c" stroke-width="0.7"/>
<g stroke="#8a8a8a" stroke-width="1.1" fill="none"><line x1="214.8" y1="364.9" x2="214.8" y2="389.5"/><line x1="212" y1="364.9" x2="218" y2="364.9"/><line x1="212" y1="389.5" x2="218" y2="389.5"/><line x1="204" y1="377" x2="226.5" y2="377"/></g>
<path d="M215.1 342.75 L220.00 352.05 L210.20 352.05 Z" fill="#7d7d7d" stroke="#4a4a4a" stroke-width="0.6"/>
<path d="M208.9 369.25 L213.80 378.55 L204.00 378.55 Z" fill="#7d7d7d" stroke="#4a4a4a" stroke-width="0.6"/>
<path d="M221.3 376.55 L226.20 385.85 L216.40 385.85 Z" fill="#7d7d7d" stroke="#4a4a4a" stroke-width="0.6"/>
<path d="M215.1 403.05 L220.00 412.35 L210.20 412.35 Z" fill="#7d7d7d" stroke="#4a4a4a" stroke-width="0.6"/>
<g stroke="#86b8dc" stroke-width="1.0" fill="none"><line x1="248.8" y1="391.2" x2="248.8" y2="418"/><line x1="246" y1="391.2" x2="251.6" y2="391.2"/><line x1="236.6" y1="404.4" x2="260.3" y2="404.4" stroke="#93a9bb"/></g>
<circle cx="242.6" cy="385.2" r="4.8" fill="#1a7ff0" stroke="#0b4a9e" stroke-width="0.7"/>
<circle cx="255" cy="379.2" r="4.8" fill="#1a7ff0" stroke="#0b4a9e" stroke-width="0.7"/>
<circle cx="248.8" cy="420.2" r="4.8" fill="#1a7ff0" stroke="#0b4a9e" stroke-width="0.7"/>
<circle cx="248.8" cy="433.1" r="4.8" fill="#1a7ff0" stroke="#0b4a9e" stroke-width="0.7"/>
<rect x="275.4" y="427.2" width="10.2" height="10.2" fill="#f50008" stroke="#a0000c" stroke-width="0.7"/>
<rect x="279.5" y="433.9" width="10.2" height="10.2" fill="#f50008" stroke="#a0000c" stroke-width="0.7"/>
<rect x="271.5" y="434.4" width="10.2" height="10.2" fill="#f50008" stroke="#a0000c" stroke-width="0.7"/>
<rect x="283.29999999999995" y="431.09999999999997" width="10.2" height="10.2" fill="#f50008" stroke="#a0000c" stroke-width="0.7"/>
<g font-size="15.2" font-family="Liberation Sans" font-weight="bold" fill="#0a0a0a">
<text x="121.1" y="463.3" font-size="15.4">T cells</text>
<text x="210.8" y="463.3" font-size="16">EBV-LCLs</text>
</g>
<path d="M359.4 335.55 L364.30 344.85 L354.50 344.85 Z" fill="#7d7d7d" stroke="#4a4a4a" stroke-width="0.6"/>
<circle cx="359.2" cy="375.7" r="4.8" fill="#1a7ff0" stroke="#0b4a9e" stroke-width="0.7"/>
<rect x="354.6" y="407.9" width="9.6" height="9.6" fill="#f50008" stroke="#a0000c" stroke-width="0.7"/>
<g font-size="14" font-family="Liberation Sans" font-weight="bold" fill="#0a0a0a">
<text x="375.5" y="344.5">Ctrl</text>
<text x="375.5" y="372">Standard</text><text x="375.5" y="388.5">CTL</text>
<text x="376" y="410.2" font-size="13.5">Pro-inflammatory</text><text x="375.5" y="425.3">CTL</text>
</g>
</svg>
</body></html>
